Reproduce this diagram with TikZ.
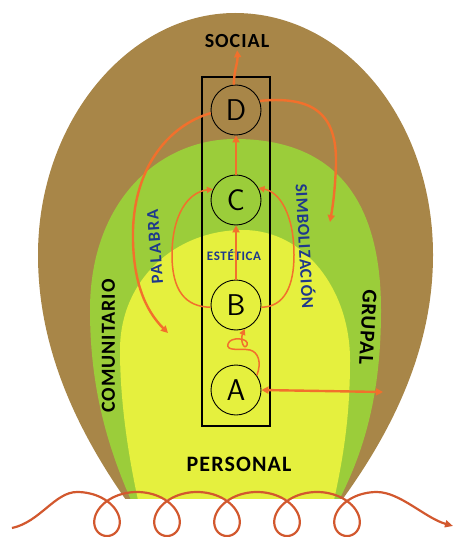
\documentclass[tikz,border=0pt]{standalone}
\usepackage{fontspec}
\setmainfont{Carlito}
\newfontfamily\labfont{Carlito}[LetterSpace=5]
\newfontfamily\widefont{Carlito}[LetterSpace=9]
\usetikzlibrary{arrows.meta}
\definecolor{brownc}{RGB}{168,134,72}
\definecolor{greenc}{RGB}{155,205,58}
\definecolor{yellowc}{RGB}{229,240,62}
\definecolor{orangec}{RGB}{242,112,44}
\definecolor{spiralc}{RGB}{210,88,46}
\definecolor{navyc}{RGB}{30,56,140}
\tikzset{
  letc/.style={circle, draw=black, line width=0.9pt, minimum size=50pt, inner sep=0pt,
    font=\fontfamily{lmss}\fontsize{30}{30}\selectfont},
  colbox/.style={draw=black, line width=1.6pt, minimum width=68pt, minimum height=349pt, inner sep=0pt},
  blacklab/.style={inner sep=0pt, text=black, font=\labfont\bfseries\fontsize{#1}{#1}\selectfont},
  bluelab/.style={inner sep=0pt, text=navyc, font=\labfont\bfseries\fontsize{#1}{#1}\selectfont},
  arr/.style={draw=orangec, line width=2.4pt, -{Triangle[length=7pt,width=7pt]}},
  thinarr/.style={draw=orangec, line width=1.5pt, -{Triangle[length=6pt,width=6pt]}},
  spiral/.style={draw=spiralc, line width=2.2pt, -{Triangle[length=8pt,width=7pt]}}
}
\begin{document}
\begin{tikzpicture}[x=1pt,y=-1pt]
\useasboundingbox (0,0) rectangle (455,537);
% layered regions
\begin{scope}
\clip (0,0) rectangle (455,498);
\fill[brownc] (126,500) .. controls (70,420) and (38,340) .. (38,255)
  .. controls (38,120) and (130,13) .. (235,13)
  .. controls (345,13) and (433,120) .. (433,255)
  .. controls (433,340) and (400,420) .. (342,500) -- cycle;
\fill[greenc] (131,500) .. controls (100,430) and (90,370) .. (90,310)
  .. controls (90,200) and (160,139) .. (235,139)
  .. controls (335,139) and (381,200) .. (381,310)
  .. controls (381,380) and (370,440) .. (339,500) -- cycle;
\fill[yellowc] (138,500) .. controls (125,440) and (120,390) .. (120,350)
  .. controls (120,280) and (175,230) .. (243,230)
  .. controls (305,230) and (350,290) .. (350,360)
  .. controls (350,410) and (345,450) .. (334,500) -- cycle;
\end{scope}
% column and stages
\node[colbox] (col) at (236,251.5) {};
\node[letc] (D) at (236,110) {D};
\node[letc] (C) at (236,200) {C};
\node[letc] (B) at (236,305) {B};
\node[letc] (A) at (236,390) {A};
% labels
\node[blacklab=20] (social) at (237,41.5) {SOCIAL};
\node[blacklab=22] (personal) at (239,464.5) {PERSONAL};
\node[blacklab=20, rotate=90] (comunitario) at (108.5,346) {COMUNITARIO};
\node[blacklab=21, rotate=-93] (grupal) at (368,327) {GRUPAL};
\node[bluelab=13] (estetica) at (234,255) {ESTÉTICA};
\node[inner sep=0pt, text=navyc, font=\widefont\bfseries\fontsize{17}{17}\selectfont, rotate=94] (palabra) at (155,247) {PALABRA};
\node[bluelab=17, rotate=-87] (simbol) at (306,246) {SIMBOLIZACIÓN};
% free ends
\coordinate (leftend) at (168,333);
\coordinate (rightend) at (330,222);
\coordinate (grpend) at (383,392);
\coordinate (sp0) at (12,528);
\coordinate (sp1) at (453,526);
% arrows
\draw[arr, shorten >=2pt] (D.95) .. controls (234,70) and (238,62) .. (social.south);
\draw[arr] (C.north) -- (D.south);
\draw[arr] (B.north) -- (C.south);
\draw[arr] (D.187) .. controls (170,125) and (135,165) .. (133,230) .. controls (132,280) and (145,310) .. (leftend);
\draw[arr] (D.21) .. controls (320,95) and (337,120) .. (336,165) .. controls (335,190) and (333,205) .. (rightend);
\draw[thinarr] (B.185) .. controls (185,307) and (172,290) .. (172,255) .. controls (172,215) and (188,192) .. (C.155);
\draw[thinarr] (B.-5) .. controls (285,307) and (294,285) .. (294,255) .. controls (294,215) and (280,192) .. (C.28);
\draw[thinarr] (A.35) .. controls (262,362) and (258,352) .. (250,350)
  .. controls (240,348) and (226,352) .. (228,344)
  .. controls (230,336) and (250,338) .. (247,345)
  .. controls (244,351) and (240,340) .. (B.-70);
\draw[arr, {Triangle[length=7pt,width=7pt]}-{Triangle[length=7pt,width=7pt]}] (A.east) -- (grpend);
% spiral
\draw[spiral] (sp0) .. controls (40,522) and (55,492) .. (77,492)
  -- plot[domain=-3.14159:28.2743, samples=500, variable=\t] ({107+9.55*\t-26*sin(\t r)}, {514+22*cos(\t r)})
  .. controls (400,492) and (425,518) .. (sp1);
\end{tikzpicture}
\end{document}
